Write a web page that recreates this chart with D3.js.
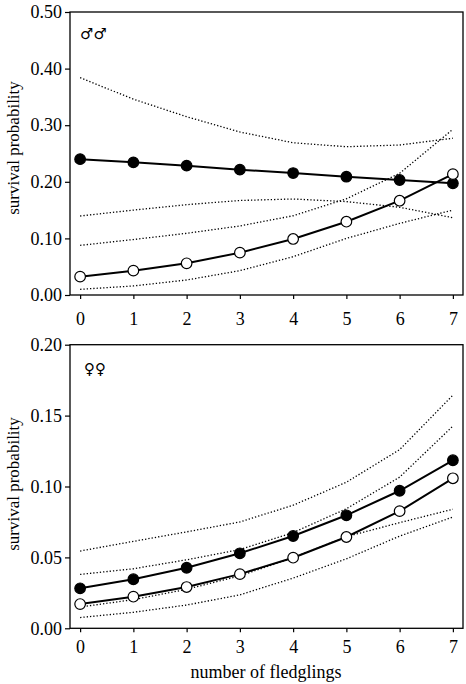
<!DOCTYPE html>
<html><head><meta charset="utf-8">
<script src="https://cdn.jsdelivr.net/npm/d3@7"></script>
<style>body{margin:0;background:#fff}svg{display:block}
.serif{font-family:"Liberation Serif","Times New Roman",Times,serif}</style>
</head><body>
<script>
const fledglings = [0,1,2,3,4,5,6,7];
const xTicks = [0,1,2,3,4,5,6,7];
// males
const maleFilled = [0.240,0.2344,0.2285,0.2215,0.2155,0.209,0.2032,0.1973];
const maleOpen = [0.0324,0.043,0.056,0.0748,0.099,0.1295,0.1666,0.2135];
const maleFilledUpper = [0.384,0.346,0.315,0.288,0.269,0.262,0.265,0.277];
const maleFilledLower = [0.1396,0.150,0.1596,0.167,0.1696,0.165,0.155,0.1366];
const maleOpenUpper = [0.0877,0.098,0.109,0.122,0.140,0.170,0.215,0.2927];
const maleOpenLower = [0.010,0.016,0.0265,0.043,0.0677,0.100,0.1265,0.150];
const maleYTicks = [0,0.1,0.2,0.3,0.4,0.5];
// females
const femaleFilled = [0.0282,0.0346,0.0427,0.0529,0.0651,0.0797,0.097,0.1185];
const femaleOpen = [0.0171,0.0223,0.0291,0.0382,0.0498,0.0644,0.0826,0.1058];
const femaleCI1 = [0.0545,0.0613,0.068,0.0750,0.0868,0.1030,0.1260,0.1644];
const femaleCI2 = [0.038,0.0420,0.0483,0.0555,0.0675,0.0843,0.1066,0.1426];
const femaleCI3 = [0.0150,0.0202,0.0275,0.0370,0.0498,0.0646,0.0745,0.0840];
const femaleCI4 = [0.0076,0.0113,0.0164,0.0236,0.0354,0.049,0.065,0.0785];
const femaleYTicks = [0,0.05,0.10,0.15,0.20];

const W=466,H=684;
const svg=d3.select("body").append("svg").attr("width",W).attr("height",H);

const x=d3.scaleLinear().domain([-0.19,7.19]).range([70,463]);

function panel(cfg){
  const y=d3.scaleLinear().domain([0,cfg.ymax]).range([cfg.bottom,cfg.top]);
  const g=svg.append("g");
  g.append("rect").attr("x",70).attr("y",cfg.top).attr("width",463-70).attr("height",cfg.bottom-cfg.top)
    .attr("fill","none").attr("stroke","#000").attr("stroke-width",1.3);
  const ya=g.append("g").attr("transform","translate(70,0)")
    .call(d3.axisLeft(y).tickValues(cfg.yticks).tickFormat(d3.format(".2f")).tickSize(5).tickPadding(3));
  ya.attr("font-family",null).attr("font-size",null);
  ya.select(".domain").remove();
  ya.selectAll("line").attr("stroke","#000").attr("stroke-width",1.2);
  ya.selectAll("text").attr("class","serif").style("font-size","18px").attr("fill","#000");
  const xa=g.append("g").attr("transform",`translate(0,${cfg.bottom})`)
    .call(d3.axisBottom(x).tickValues(xTicks).tickFormat(d3.format("d")).tickSize(4).tickPadding(cfg.xpad));
  xa.attr("font-family",null).attr("font-size",null);
  xa.select(".domain").remove();
  xa.selectAll("line").attr("stroke","#000").attr("stroke-width",1.2);
  xa.selectAll("text").attr("class","serif").style("font-size","18px").attr("fill","#000");
  g.append("text").attr("class","serif").attr("transform",`translate(19,${cfg.ylabY}) rotate(-90)`)
    .attr("text-anchor","middle").style("font-size","17px").text("survival probability");
  const line=d3.line().x((d,i)=>x(fledglings[i])).y(d=>y(d));
  cfg.ci.forEach(arr=>{
    g.append("path").attr("d",line(arr)).attr("fill","none").attr("stroke","#000")
      .attr("stroke-width",1.3).attr("stroke-dasharray","1.3,2");
  });
  [[cfg.filled,"#000"],[cfg.open,"#fff"]].forEach(([arr,fill])=>{
    g.append("path").attr("d",line(arr)).attr("fill","none").attr("stroke","#000").attr("stroke-width",2);
    g.selectAll(null).data(arr).enter().append("circle")
      .attr("cx",(d,i)=>x(fledglings[i])).attr("cy",d=>y(d)).attr("r",5.3)
      .attr("fill",fill).attr("stroke","#000").attr("stroke-width",1.2);
  });
  g.append("text").attr("x",cfg.symX).attr("y",cfg.symY).style("font-family","'DejaVu Sans',sans-serif")
    .style("font-size",cfg.symSize+"px").style("font-weight","bold").attr("fill","#000").text(cfg.sym);
}

panel({top:12,bottom:295,ymax:0.5,yticks:maleYTicks,xpad:13,ylabY:148,
  filled:maleFilled,open:maleOpen,
  ci:[maleFilledUpper,maleFilledLower,maleOpenUpper,maleOpenLower],
  sym:"♂♂",symX:80,symY:39,symSize:15});
panel({top:344.7,bottom:628.3,ymax:0.2,yticks:femaleYTicks,xpad:8,ylabY:484,
  filled:femaleFilled,open:femaleOpen,
  ci:[femaleCI1,femaleCI2,femaleCI3,femaleCI4],
  sym:"♀♀",symX:84,symY:374,symSize:15});

svg.append("text").attr("class","serif").attr("x",266).attr("y",678).attr("text-anchor","middle")
  .style("font-size","18px").text("number of fledglings");
</script>
</body></html>
